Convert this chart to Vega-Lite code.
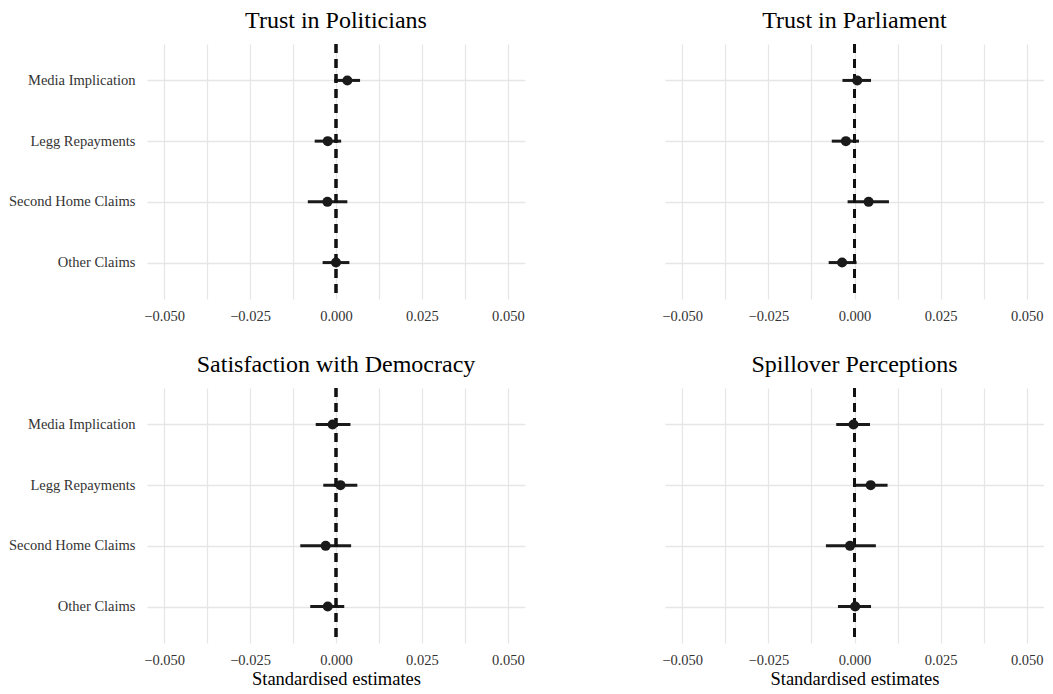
{
  "$schema": "https://vega.github.io/schema/vega-lite/v6.json",
  "padding": {"left": 8, "top": 8, "right": 0, "bottom": 0},
  "background": "white",
  "config": {
    "view": {"stroke": null},
    "font": "Liberation Serif",
    "title": {"font": "Liberation Serif", "fontSize": 24, "fontWeight": "normal", "color": "#000000", "anchor": "middle", "offset": 10},
    "axis": {"labelFont": "Liberation Serif", "titleFont": "Liberation Serif"}
  },
  "data": {"values": [
    {"outcome": "Trust in Politicians", "term": "Media Implication", "est": 0.0033, "lo": -0.0005, "hi": 0.007},
    {"outcome": "Trust in Politicians", "term": "Legg Repayments", "est": -0.0024, "lo": -0.0062, "hi": 0.0015},
    {"outcome": "Trust in Politicians", "term": "Second Home Claims", "est": -0.0025, "lo": -0.0082, "hi": 0.0033},
    {"outcome": "Trust in Politicians", "term": "Other Claims", "est": 0.0, "lo": -0.0039, "hi": 0.0039},
    {"outcome": "Trust in Parliament", "term": "Media Implication", "est": 0.0008, "lo": -0.0035, "hi": 0.0048},
    {"outcome": "Trust in Parliament", "term": "Legg Repayments", "est": -0.0025, "lo": -0.0066, "hi": 0.0013},
    {"outcome": "Trust in Parliament", "term": "Second Home Claims", "est": 0.0041, "lo": -0.002, "hi": 0.01},
    {"outcome": "Trust in Parliament", "term": "Other Claims", "est": -0.0036, "lo": -0.0075, "hi": 0.0006},
    {"outcome": "Satisfaction with Democracy", "term": "Media Implication", "est": -0.001, "lo": -0.0059, "hi": 0.0042},
    {"outcome": "Satisfaction with Democracy", "term": "Legg Repayments", "est": 0.0013, "lo": -0.0037, "hi": 0.0062},
    {"outcome": "Satisfaction with Democracy", "term": "Second Home Claims", "est": -0.003, "lo": -0.0104, "hi": 0.0044},
    {"outcome": "Satisfaction with Democracy", "term": "Other Claims", "est": -0.0024, "lo": -0.0075, "hi": 0.0024},
    {"outcome": "Spillover Perceptions", "term": "Media Implication", "est": -0.0003, "lo": -0.0053, "hi": 0.0045},
    {"outcome": "Spillover Perceptions", "term": "Legg Repayments", "est": 0.0047, "lo": 0.0004, "hi": 0.0096},
    {"outcome": "Spillover Perceptions", "term": "Second Home Claims", "est": -0.0013, "lo": -0.0083, "hi": 0.0062},
    {"outcome": "Spillover Perceptions", "term": "Other Claims", "est": 0.0002, "lo": -0.0048, "hi": 0.0048}
  ]},
  "vconcat": [
    {"hconcat": [
      {
        "width": 378, "height": 255,
        "title": {"text": "Trust in Politicians"},
        "transform": [{"filter": "datum.outcome == 'Trust in Politicians'"}],
        "layer": [
          {"mark": {"type": "rule", "strokeWidth": 3, "color": "#1a1a1a"}, "encoding": {"x": {"field": "lo", "type": "quantitative", "scale": {"domain": [-0.055, 0.055], "nice": false, "zero": false}, "axis": {"title": null, "values": [-0.05, -0.0375, -0.025, -0.0125, 0, 0.0125, 0.025, 0.0375, 0.05], "labelExpr": "(datum.value == 0.0125 || datum.value == -0.0125 || datum.value == 0.0375 || datum.value == -0.0375) ? '' : replace(format(datum.value, '.3f'), '-', '\u2212')", "labelOverlap": false, "labelFlush": false, "grid": true, "gridColor": "#e6e6e6", "gridWidth": 1.3, "ticks": false, "domain": false, "labelFontSize": 14.5, "labelColor": "#333333", "labelPadding": 10}}, "x2": {"field": "hi"}, "y": {"field": "term", "type": "nominal", "sort": ["Media Implication", "Legg Repayments", "Second Home Claims", "Other Claims"], "scale": {"type": "point", "padding": 0.6}, "axis": {"title": null, "grid": true, "gridColor": "#e6e6e6", "gridWidth": 1.3, "ticks": false, "domain": false, "labelFontSize": 14.5, "labelColor": "#333333", "labelPadding": 12}}}},
          {"mark": {"type": "rule", "strokeDash": [9, 6], "strokeWidth": 2.6, "color": "#111111"}, "encoding": {"x": {"datum": 0, "type": "quantitative"}}},
          {"mark": {"type": "point", "filled": true, "size": 100, "opacity": 1, "color": "#1a1a1a"}, "encoding": {"x": {"field": "est", "type": "quantitative"}, "y": {"field": "term", "type": "nominal", "sort": ["Media Implication", "Legg Repayments", "Second Home Claims", "Other Claims"]}}}
        ]
      },
      {
        "width": 379, "height": 255,
        "title": {"text": "Trust in Parliament"},
        "transform": [{"filter": "datum.outcome == 'Trust in Parliament'"}],
        "layer": [
          {"mark": {"type": "rule", "strokeWidth": 3, "color": "#1a1a1a"}, "encoding": {"x": {"field": "lo", "type": "quantitative", "scale": {"domain": [-0.055, 0.055], "nice": false, "zero": false}, "axis": {"title": null, "values": [-0.05, -0.0375, -0.025, -0.0125, 0, 0.0125, 0.025, 0.0375, 0.05], "labelExpr": "(datum.value == 0.0125 || datum.value == -0.0125 || datum.value == 0.0375 || datum.value == -0.0375) ? '' : replace(format(datum.value, '.3f'), '-', '\u2212')", "labelOverlap": false, "labelFlush": false, "grid": true, "gridColor": "#e6e6e6", "gridWidth": 1.3, "ticks": false, "domain": false, "labelFontSize": 14.5, "labelColor": "#333333", "labelPadding": 10}}, "x2": {"field": "hi"}, "y": {"field": "term", "type": "nominal", "sort": ["Media Implication", "Legg Repayments", "Second Home Claims", "Other Claims"], "scale": {"type": "point", "padding": 0.6}, "axis": {"title": null, "grid": true, "gridColor": "#e6e6e6", "gridWidth": 1.3, "ticks": false, "domain": false, "labels": false}}}},
          {"mark": {"type": "rule", "strokeDash": [9, 6], "strokeWidth": 2.6, "color": "#111111"}, "encoding": {"x": {"datum": 0, "type": "quantitative"}}},
          {"mark": {"type": "point", "filled": true, "size": 100, "opacity": 1, "color": "#1a1a1a"}, "encoding": {"x": {"field": "est", "type": "quantitative"}, "y": {"field": "term", "type": "nominal", "sort": ["Media Implication", "Legg Repayments", "Second Home Claims", "Other Claims"]}}}
        ]
      }
    ], "spacing": 136},
    {"hconcat": [
      {
        "width": 378, "height": 255,
        "title": {"text": "Satisfaction with Democracy"},
        "transform": [{"filter": "datum.outcome == 'Satisfaction with Democracy'"}],
        "layer": [
          {"mark": {"type": "rule", "strokeWidth": 3, "color": "#1a1a1a"}, "encoding": {"x": {"field": "lo", "type": "quantitative", "scale": {"domain": [-0.055, 0.055], "nice": false, "zero": false}, "axis": {"title": "Standardised estimates", "titleFontSize": 18.5, "titleFontWeight": "normal", "titleColor": "#000000", "titlePadding": 3, "values": [-0.05, -0.0375, -0.025, -0.0125, 0, 0.0125, 0.025, 0.0375, 0.05], "labelExpr": "(datum.value == 0.0125 || datum.value == -0.0125 || datum.value == 0.0375 || datum.value == -0.0375) ? '' : replace(format(datum.value, '.3f'), '-', '\u2212')", "labelOverlap": false, "labelFlush": false, "grid": true, "gridColor": "#e6e6e6", "gridWidth": 1.3, "ticks": false, "domain": false, "labelFontSize": 14.5, "labelColor": "#333333", "labelPadding": 10}}, "x2": {"field": "hi"}, "y": {"field": "term", "type": "nominal", "sort": ["Media Implication", "Legg Repayments", "Second Home Claims", "Other Claims"], "scale": {"type": "point", "padding": 0.6}, "axis": {"title": null, "grid": true, "gridColor": "#e6e6e6", "gridWidth": 1.3, "ticks": false, "domain": false, "labelFontSize": 14.5, "labelColor": "#333333", "labelPadding": 12}}}},
          {"mark": {"type": "rule", "strokeDash": [9, 6], "strokeWidth": 2.6, "color": "#111111"}, "encoding": {"x": {"datum": 0, "type": "quantitative"}}},
          {"mark": {"type": "point", "filled": true, "size": 100, "opacity": 1, "color": "#1a1a1a"}, "encoding": {"x": {"field": "est", "type": "quantitative"}, "y": {"field": "term", "type": "nominal", "sort": ["Media Implication", "Legg Repayments", "Second Home Claims", "Other Claims"]}}}
        ]
      },
      {
        "width": 379, "height": 255,
        "title": {"text": "Spillover Perceptions"},
        "transform": [{"filter": "datum.outcome == 'Spillover Perceptions'"}],
        "layer": [
          {"mark": {"type": "rule", "strokeWidth": 3, "color": "#1a1a1a"}, "encoding": {"x": {"field": "lo", "type": "quantitative", "scale": {"domain": [-0.055, 0.055], "nice": false, "zero": false}, "axis": {"title": "Standardised estimates", "titleFontSize": 18.5, "titleFontWeight": "normal", "titleColor": "#000000", "titlePadding": 3, "values": [-0.05, -0.0375, -0.025, -0.0125, 0, 0.0125, 0.025, 0.0375, 0.05], "labelExpr": "(datum.value == 0.0125 || datum.value == -0.0125 || datum.value == 0.0375 || datum.value == -0.0375) ? '' : replace(format(datum.value, '.3f'), '-', '\u2212')", "labelOverlap": false, "labelFlush": false, "grid": true, "gridColor": "#e6e6e6", "gridWidth": 1.3, "ticks": false, "domain": false, "labelFontSize": 14.5, "labelColor": "#333333", "labelPadding": 10}}, "x2": {"field": "hi"}, "y": {"field": "term", "type": "nominal", "sort": ["Media Implication", "Legg Repayments", "Second Home Claims", "Other Claims"], "scale": {"type": "point", "padding": 0.6}, "axis": {"title": null, "grid": true, "gridColor": "#e6e6e6", "gridWidth": 1.3, "ticks": false, "domain": false, "labels": false}}}},
          {"mark": {"type": "rule", "strokeDash": [9, 6], "strokeWidth": 2.6, "color": "#111111"}, "encoding": {"x": {"datum": 0, "type": "quantitative"}}},
          {"mark": {"type": "point", "filled": true, "size": 100, "opacity": 1, "color": "#1a1a1a"}, "encoding": {"x": {"field": "est", "type": "quantitative"}, "y": {"field": "term", "type": "nominal", "sort": ["Media Implication", "Legg Repayments", "Second Home Claims", "Other Claims"]}}}
        ]
      }
    ], "spacing": 136}
  ],
  "spacing": 29
}
